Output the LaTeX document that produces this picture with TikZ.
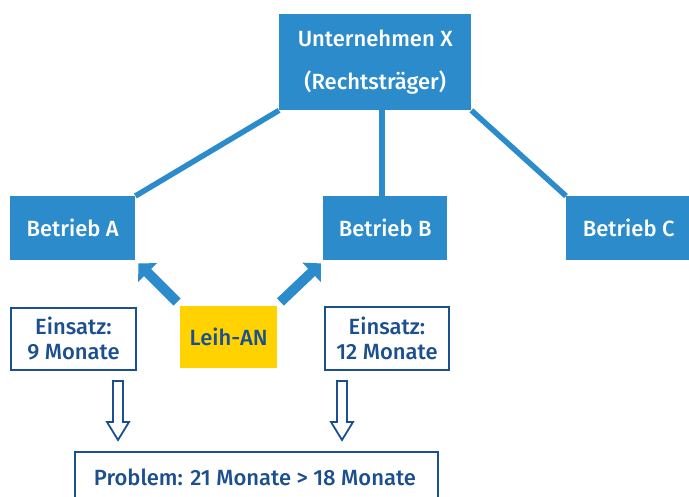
\documentclass[tikz,border=0pt]{standalone}
\usepackage{fontspec}
\setmainfont{Fira Sans}[UprightFont=* Medium]
\usetikzlibrary{arrows.meta}
\definecolor{mblue}{HTML}{2B8BCB}
\definecolor{dblue}{HTML}{1B4F8F}
\definecolor{myellow}{HTML}{FFD200}
\tikzset{
  bluebox/.style={fill=mblue, text=white, inner sep=0pt, anchor=north west, font=\fontsize{22}{26}\selectfont},
  outbox/.style={draw=dblue, line width=2pt, fill=white, text=dblue, inner sep=0pt, anchor=north west, align=center, font=\fontsize{22}{25}\selectfont},
  link/.style={draw=mblue, line width=5.5pt},
  fatarrow/.style={draw=mblue, line width=10pt, -{Triangle[length=13pt, width=26pt]}},
  hollow/.style={draw=dblue, line width=1.8pt, fill=white, line join=miter}
}
\begin{document}
\begin{tikzpicture}[x=1pt,y=-1pt]
\useasboundingbox (0,0) rectangle (689,497);
\begin{scope}
\clip (0,0) rectangle (689,497);
\node[bluebox, minimum width=192pt, minimum height=96pt, align=center, font=\fontsize{22}{43}\selectfont] (x) at (279,14) {Unternehmen X\\(Rechtsträger)};
\node[bluebox, minimum width=125pt, minimum height=64pt] (a) at (10,196) {Betrieb A};
\node[bluebox, minimum width=124pt, minimum height=64pt] (b) at (323,196) {Betrieb B};
\node[bluebox, minimum width=125pt, minimum height=64pt] (c) at (566,196) {Betrieb C};
\node[fill=myellow, text=dblue, inner sep=0pt, anchor=north west, minimum width=97pt, minimum height=62pt, font=\fontsize{22}{26}\selectfont] (leih) at (180,306) {Leih-AN};
\node[outbox, minimum width=125pt, minimum height=62pt] (e1) at (10,307) {Einsatz:\\9 Monate};
\node[outbox, minimum width=124pt, minimum height=63pt] (e2) at (324,306) {Einsatz:\\12 Monate};
\node[draw=dblue, line width=2pt, fill=white, inner sep=0pt, anchor=north west, minimum width=363pt, minimum height=70pt] (p) at (74,451) {};
\node[text=dblue, font=\fontsize{22}{26}\selectfont, anchor=base] (ptext) at (255,485) {Problem: 21 Monate > 18 Monate};

\draw[link] (x.south west) -- (a.north east);
\draw[link] ([xshift=-3pt]x.south -| b.north) coordinate (xm) -- (xm |- b.north);
\draw[link] (x.south east) -- (c.north west);

\draw[fatarrow] ([shift={(-3,-4)}]leih.north west) -- ([shift={(3,3)}]a.south east);
\draw[fatarrow] ([shift={(3,-4)}]leih.north east) -- ([shift={(-2,3)}]b.south west);

\coordinate (h1) at (118,381);
\coordinate (h2) at (342,381);
\foreach \h in {h1,h2}{
  \draw[hollow] ([shift={(-5,0)}]\h) -- ([shift={(5,0)}]\h) -- ([shift={(5,41)}]\h) -- ([shift={(11,41)}]\h) -- ([shift={(0,59)}]\h) -- ([shift={(-11,41)}]\h) -- ([shift={(-5,41)}]\h) -- cycle;
}
\end{scope}
\end{tikzpicture}
\end{document}
